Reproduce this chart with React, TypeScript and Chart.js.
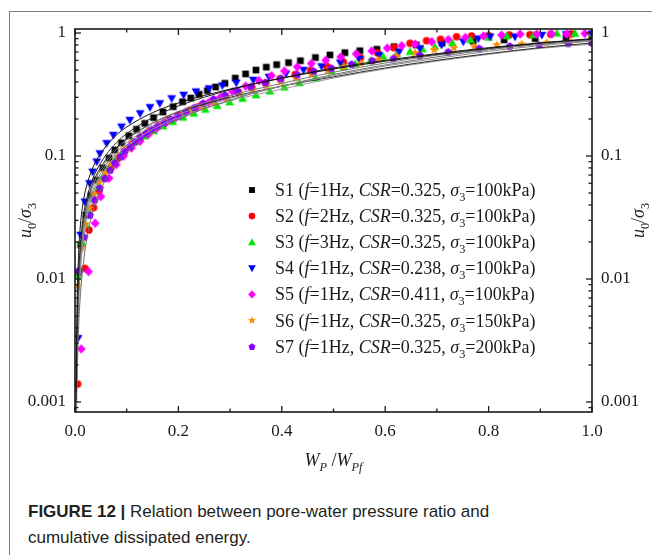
import React, { useEffect, useRef } from 'react';
import { Chart, registerables } from 'chart.js';
Chart.register(...registerables);

// ---------- data ----------
const S1: [number, number][] = [[0.006,0.0111],[0.011,0.0189],[0.021,0.0331],[0.031,0.048],[0.042,0.0638],[0.054,0.08],[0.066,0.096],[0.077,0.112],[0.09,0.128],[0.104,0.146],[0.119,0.165],[0.135,0.184],[0.152,0.205],[0.17,0.228],[0.19,0.252],[0.208,0.276],[0.224,0.296],[0.24,0.318],[0.256,0.34],[0.272,0.364],[0.29,0.39],[0.31,0.43],[0.33,0.465],[0.35,0.5],[0.37,0.528],[0.39,0.553],[0.413,0.574],[0.436,0.595],[0.465,0.632],[0.493,0.663],[0.522,0.692],[0.551,0.718],[0.584,0.737],[0.617,0.774],[0.66,0.8],[0.71,0.83],[0.77,0.86],[0.83,0.88],[0.89,0.9],[0.95,0.92],[1.0,0.94]];
const S2: [number, number][] = [[0.005,0.0014],[0.019,0.0122],[0.027,0.025],[0.036,0.038],[0.046,0.052],[0.057,0.066],[0.069,0.08],[0.082,0.095],[0.096,0.11],[0.111,0.126],[0.127,0.143],[0.144,0.16],[0.162,0.178],[0.181,0.197],[0.201,0.216],[0.222,0.236],[0.244,0.257],[0.267,0.279],[0.291,0.303],[0.316,0.33],[0.342,0.36],[0.369,0.392],[0.397,0.425],[0.426,0.46],[0.456,0.497],[0.487,0.537],[0.519,0.58],[0.552,0.63],[0.585,0.69],[0.617,0.76],[0.648,0.824],[0.68,0.866],[0.707,0.889],[0.738,0.933],[0.767,0.946],[0.8,0.955],[0.84,0.965],[0.88,0.97],[0.92,0.978],[0.96,0.985],[1.0,0.99]];
const S3: [number, number][] = [[0.005,0.0105],[0.013,0.02],[0.02,0.028],[0.027,0.035],[0.035,0.045],[0.044,0.056],[0.054,0.067],[0.065,0.079],[0.077,0.091],[0.09,0.104],[0.104,0.117],[0.119,0.131],[0.135,0.145],[0.152,0.16],[0.17,0.175],[0.189,0.19],[0.209,0.206],[0.23,0.222],[0.252,0.239],[0.275,0.256],[0.299,0.274],[0.324,0.293],[0.35,0.313],[0.377,0.336],[0.405,0.362],[0.434,0.392],[0.465,0.43],[0.496,0.49],[0.52,0.53],[0.542,0.56],[0.571,0.595],[0.596,0.642],[0.622,0.675],[0.648,0.705],[0.672,0.74],[0.696,0.774],[0.73,0.83],[0.765,0.88],[0.8,0.92],[0.835,0.946],[0.887,0.963],[0.932,0.994],[0.967,0.99],[1.0,0.995]];
const S4: [number, number][] = [[0.006,0.0033],[0.011,0.0228],[0.019,0.0425],[0.028,0.06],[0.034,0.0745],[0.042,0.09],[0.048,0.105],[0.061,0.127],[0.074,0.148],[0.09,0.173],[0.106,0.196],[0.126,0.222],[0.145,0.249],[0.164,0.268],[0.187,0.294],[0.21,0.314],[0.234,0.334],[0.259,0.354],[0.285,0.374],[0.312,0.394],[0.345,0.415],[0.375,0.44],[0.408,0.468],[0.442,0.5],[0.477,0.535],[0.513,0.575],[0.55,0.615],[0.588,0.66],[0.627,0.705],[0.667,0.75],[0.709,0.799],[0.751,0.85],[0.78,0.9],[0.803,0.933],[0.851,0.933],[0.903,0.963],[0.95,0.975],[1.0,0.985]];
const S5: [number, number][] = [[0.012,0.0027],[0.026,0.0115],[0.039,0.0284],[0.05,0.0468],[0.066,0.066],[0.08,0.085],[0.094,0.1],[0.109,0.116],[0.126,0.132],[0.142,0.15],[0.158,0.168],[0.176,0.186],[0.195,0.205],[0.215,0.226],[0.236,0.248],[0.258,0.272],[0.281,0.3],[0.305,0.333],[0.33,0.37],[0.356,0.41],[0.38,0.45],[0.405,0.49],[0.43,0.53],[0.457,0.565],[0.485,0.6],[0.514,0.638],[0.544,0.677],[0.574,0.715],[0.604,0.755],[0.632,0.788],[0.658,0.814],[0.69,0.85],[0.722,0.885],[0.755,0.92],[0.79,0.946],[0.825,0.963],[0.861,0.98],[0.893,0.98],[0.922,0.985],[0.951,0.98],[0.986,0.99]];
const S6: [number, number][] = [[0.005,0.0088],[0.013,0.0178],[0.02,0.028],[0.028,0.0377],[0.037,0.049],[0.047,0.061],[0.058,0.073],[0.07,0.086],[0.083,0.1],[0.097,0.114],[0.112,0.129],[0.128,0.145],[0.145,0.161],[0.163,0.178],[0.182,0.196],[0.202,0.214],[0.223,0.233],[0.245,0.253],[0.268,0.274],[0.292,0.296],[0.317,0.319],[0.343,0.344],[0.37,0.37],[0.398,0.398],[0.427,0.428],[0.457,0.46],[0.488,0.494],[0.52,0.53],[0.553,0.568],[0.587,0.607],[0.622,0.648],[0.658,0.69],[0.695,0.73],[0.733,0.755],[0.772,0.775],[0.816,0.8],[0.864,0.814],[0.912,0.835],[0.958,0.85],[1.0,0.86]];
const S7: [number, number][] = [[0.008,0.0118],[0.018,0.022],[0.029,0.0331],[0.038,0.044],[0.048,0.055],[0.058,0.066],[0.068,0.077],[0.077,0.088],[0.087,0.099],[0.096,0.11],[0.106,0.12],[0.116,0.131],[0.126,0.143],[0.137,0.154],[0.148,0.165],[0.16,0.176],[0.172,0.188],[0.185,0.2],[0.2,0.213],[0.215,0.23],[0.231,0.248],[0.248,0.27],[0.268,0.292],[0.29,0.315],[0.314,0.34],[0.34,0.368],[0.368,0.397],[0.398,0.428],[0.43,0.46],[0.462,0.49],[0.496,0.52],[0.535,0.56],[0.575,0.598],[0.616,0.622],[0.667,0.663],[0.722,0.705],[0.782,0.751],[0.841,0.784],[0.898,0.799],[0.954,0.824],[1.0,0.84]];

const fitX = [0.002,0.004,0.007,0.01,0.015,0.02,0.03,0.04,0.06,0.08,0.1,0.15,0.2,0.3,0.4,0.5,0.6,0.7,0.8,0.9,1.0];
const F1 = [0.0012,0.006,0.016,0.026,0.04,0.052,0.072,0.09,0.12,0.148,0.172,0.225,0.27,0.35,0.43,0.51,0.59,0.67,0.75,0.83,0.9];
const F2 = [0.001,0.004,0.011,0.018,0.03,0.04,0.058,0.074,0.102,0.128,0.152,0.205,0.255,0.345,0.43,0.52,0.6,0.68,0.76,0.83,0.89];
const F3 = [0.0008,0.003,0.008,0.014,0.024,0.033,0.05,0.065,0.09,0.113,0.135,0.185,0.23,0.31,0.39,0.48,0.57,0.66,0.74,0.82,0.88];
const F4 = [0.0007,0.0025,0.007,0.012,0.021,0.03,0.046,0.06,0.085,0.107,0.128,0.175,0.218,0.295,0.37,0.45,0.54,0.62,0.71,0.79,0.86];
const F5 = [0.0005,0.0015,0.004,0.007,0.012,0.018,0.03,0.042,0.065,0.087,0.108,0.155,0.2,0.285,0.37,0.46,0.55,0.64,0.73,0.81,0.87];
const F6 = [0.0007,0.003,0.0085,0.015,0.026,0.036,0.053,0.068,0.094,0.117,0.138,0.185,0.228,0.3,0.37,0.44,0.52,0.6,0.68,0.76,0.83];
const F7 = [0.0006,0.0022,0.006,0.011,0.019,0.027,0.042,0.056,0.08,0.101,0.12,0.165,0.205,0.28,0.35,0.43,0.51,0.59,0.67,0.75,0.81];

const seriesNames = ['S1','S2','S3','S4','S5','S6','S7'];
const freqs = ['1Hz','2Hz','3Hz','1Hz','1Hz','1Hz','1Hz'];
const csrs = ['0.325','0.325','0.325','0.238','0.411','0.325','0.325'];
const sigmas = ['100kPa','100kPa','100kPa','100kPa','100kPa','150kPa','200kPa'];
const seriesColors = ['#000000','#ff0000','#00e600','#0000ff','#ff00ff','#ff8c00','#8a00ff'];
const seriesShapes = ['square','circle','triUp','triDown','diamond','star','pentagon'];

const xTickValues = [0, 0.2, 0.4, 0.6, 0.8, 1.0];
const xTickLabels = ['0.0','0.2','0.4','0.6','0.8','1.0'];
const yTickValues = [0.001, 0.01, 0.1, 1];
const yTickLabels = ['0.001','0.01','0.1','1'];

// ---------- helpers ----------
const SERIF = "'Liberation Serif', 'Times New Roman', serif";

function pathShape(ctx: CanvasRenderingContext2D, shape: string, cx: number, cy: number, s: number) {
  ctx.beginPath();
  if (shape === 'square') {
    ctx.rect(cx - s * 0.42, cy - s * 0.42, s * 0.84, s * 0.84);
  } else if (shape === 'circle') {
    ctx.arc(cx, cy, s * 0.47, 0, Math.PI * 2);
  } else if (shape === 'triUp') {
    ctx.moveTo(cx, cy - s * 0.55); ctx.lineTo(cx + s * 0.55, cy + s * 0.42); ctx.lineTo(cx - s * 0.55, cy + s * 0.42); ctx.closePath();
  } else if (shape === 'triDown') {
    ctx.moveTo(cx, cy + s * 0.55); ctx.lineTo(cx + s * 0.55, cy - s * 0.42); ctx.lineTo(cx - s * 0.55, cy - s * 0.42); ctx.closePath();
  } else if (shape === 'diamond') {
    ctx.moveTo(cx, cy - s * 0.6); ctx.lineTo(cx + s * 0.55, cy); ctx.lineTo(cx, cy + s * 0.6); ctx.lineTo(cx - s * 0.55, cy); ctx.closePath();
  } else if (shape === 'star') {
    for (let i = 0; i < 10; i++) {
      const r = i % 2 === 0 ? s * 0.6 : s * 0.26;
      const a = -Math.PI / 2 + i * Math.PI / 5;
      const px = cx + r * Math.cos(a), py = cy + r * Math.sin(a);
      if (i === 0) ctx.moveTo(px, py); else ctx.lineTo(px, py);
    }
    ctx.closePath();
  } else if (shape === 'pentagon') {
    for (let i = 0; i < 5; i++) {
      const a = -Math.PI / 2 + i * 2 * Math.PI / 5;
      const px = cx + s * 0.52 * Math.cos(a), py = cy + s * 0.52 * Math.sin(a) + s * 0.05;
      if (i === 0) ctx.moveTo(px, py); else ctx.lineTo(px, py);
    }
    ctx.closePath();
  }
}

function makeMarker(shape: string, color: string, s: number): HTMLCanvasElement {
  const c = document.createElement('canvas');
  const n = Math.ceil(s + 4);
  c.width = n; c.height = n;
  const ctx = c.getContext('2d')!;
  ctx.fillStyle = color;
  pathShape(ctx, shape, n / 2, n / 2, s);
  ctx.fill();
  return c;
}

type Run = { t: string; i?: boolean; sub?: boolean };
function runsWidth(ctx: CanvasRenderingContext2D, runs: Run[], size: number) {
  let w = 0;
  for (const r of runs) {
    ctx.font = `${r.i ? 'italic ' : ''}${r.sub ? size * 0.68 : size}px ${SERIF}`;
    w += ctx.measureText(r.t).width;
  }
  return w;
}
function drawRuns(ctx: CanvasRenderingContext2D, runs: Run[], x: number, y: number, size: number) {
  let cx = x;
  for (const r of runs) {
    const fs = r.sub ? size * 0.68 : size;
    ctx.font = `${r.i ? 'italic ' : ''}${fs}px ${SERIF}`;
    ctx.fillText(r.t, cx, y + (r.sub ? size * 0.28 : 0));
    cx += ctx.measureText(r.t).width;
  }
}

const yTitleRuns: Run[] = [{ t: 'u', i: true }, { t: '0', sub: true }, { t: '/' }, { t: 'σ', i: true }, { t: '3', sub: true }];
const xTitleRuns: Run[] = [{ t: 'W', i: true }, { t: 'P', i: true, sub: true }, { t: ' /' }, { t: 'W', i: true }, { t: 'Pf', i: true, sub: true }];

const framePlugin = {
  id: 'framePlugin',
  afterDatasetsDraw(chart: any) {
    const { ctx, chartArea: a, scales } = chart;
    const xs = scales.x, ys = scales.y;
    ctx.save();
    ctx.strokeStyle = '#1a1a1a';
    ctx.lineWidth = 1.6;
    ctx.strokeRect(a.left, a.top, a.right - a.left, a.bottom - a.top);
    ctx.lineWidth = 1.3;
    const seg = (x1: number, y1: number, x2: number, y2: number) => { ctx.beginPath(); ctx.moveTo(x1, y1); ctx.lineTo(x2, y2); ctx.stroke(); };
    for (let i = 0; i <= 10; i++) {
      const px = xs.getPixelForValue(i / 10);
      const L = i % 2 === 0 ? 6 : 3.5;
      seg(px, a.bottom, px, a.bottom - L);
      seg(px, a.top, px, a.top + L);
    }
    for (let d = -4; d <= 0; d++) {
      for (let m = 1; m <= 9; m++) {
        const v = m * Math.pow(10, d);
        if (v < ys.min || v > ys.max) continue;
        const py = ys.getPixelForValue(v);
        const L = m === 1 ? 6 : 3.5;
        seg(a.left, py, a.left + L, py);
        seg(a.right, py, a.right - L, py);
      }
    }
    ctx.fillStyle = '#1a1a1a';
    ctx.font = `17px ${SERIF}`;
    ctx.textBaseline = 'middle';
    yTickValues.forEach((v, i) => {
      const py = ys.getPixelForValue(v);
      ctx.textAlign = 'right';
      ctx.fillText(yTickLabels[i], a.left - 9, py);
      ctx.textAlign = 'left';
      ctx.fillText(yTickLabels[i], a.right + 9, py);
    });
    ctx.textAlign = 'center';
    ctx.textBaseline = 'top';
    xTickValues.forEach((v, i) => {
      ctx.fillText(xTickLabels[i], xs.getPixelForValue(v), a.bottom + 11);
    });
    // axis titles
    ctx.textAlign = 'left';
    ctx.textBaseline = 'alphabetic';
    const ty = (a.top + a.bottom) / 2;
    const tw = runsWidth(ctx, yTitleRuns, 18);
    ctx.save(); ctx.translate(a.left - 44, ty); ctx.rotate(-Math.PI / 2); drawRuns(ctx, yTitleRuns, -tw / 2, 0, 18); ctx.restore();
    ctx.save(); ctx.translate(a.right + 52, ty); ctx.rotate(-Math.PI / 2); drawRuns(ctx, yTitleRuns, -tw / 2, 0, 18); ctx.restore();
    const xw = runsWidth(ctx, xTitleRuns, 18);
    drawRuns(ctx, xTitleRuns, (a.left + a.right) / 2 - xw / 2, a.bottom + 54, 18);
    // legend
    const lx = a.left + 177, ly = a.top + 161;
    seriesNames.forEach((nm, i) => {
      const cy = ly + i * 26.1;
      ctx.fillStyle = seriesColors[i];
      pathShape(ctx, seriesShapes[i], lx, cy, 7);
      ctx.fill();
      ctx.fillStyle = '#1a1a1a';
      const runs: Run[] = [
        { t: `${nm} (` }, { t: 'f', i: true }, { t: `=${freqs[i]}, ` }, { t: 'CSR', i: true },
        { t: `=${csrs[i]}, ` }, { t: 'σ', i: true }, { t: '3', sub: true }, { t: `=${sigmas[i]})` },
      ];
      drawRuns(ctx, runs, lx + 23, cy + 6, 18);
    });
    ctx.restore();
  },
};

export default function App() {
  const ref = useRef<HTMLCanvasElement>(null);
  useEffect(() => {
    if (!ref.current) return;
    const pts = [S1, S2, S3, S4, S5, S6, S7];
    const fits = [F1, F2, F3, F4, F5, F6, F7];
    const fitColors = ['#111111', '#222222', '#7a7a7a', '#8a8a8a', '#6e6e6e', '#2a2a2a', '#9a9a9a'];
    const datasets: any[] = [];
    pts.forEach((p, i) => {
      datasets.push({
        label: seriesNames[i],
        data: p.map(([x, y]) => ({ x, y })),
        pointStyle: makeMarker(seriesShapes[i], seriesColors[i], 8),
        pointRadius: 5,
        showLine: false,
        order: 10 - i,
      });
    });
    fits.forEach((f, i) => {
      datasets.push({
        label: 'fit' + (i + 1),
        data: fitX.map((x, k) => ({ x, y: f[k] })),
        showLine: true,
        pointRadius: 0,
        borderColor: fitColors[i],
        borderWidth: 1,
        cubicInterpolationMode: 'monotone',
        order: 0,
      });
    });
    const chart = new Chart(ref.current, {
      type: 'scatter',
      data: { datasets },
      options: {
        animation: false,
        responsive: true,
        maintainAspectRatio: false,
        layout: { padding: { left: 65, right: 60, top: 17, bottom: 70 } },
        plugins: { legend: { display: false }, tooltip: { enabled: false } },
        scales: {
          x: { type: 'linear', min: 0, max: 1, display: false },
          y: { type: 'logarithmic', min: 0.000829, max: 1.078, display: false },
        },
      },
      plugins: [framePlugin],
    });
    return () => chart.destroy();
  }, []);

  return (
    <div style={{ position: 'absolute', left: 9, top: 11, width: 643, height: 544, borderLeft: '1px solid #808080', borderTop: '1px solid #808080' }}>
      <div style={{ position: 'absolute', left: 0, top: 0, width: 642, height: 470 }}>
        <canvas ref={ref} />
      </div>
      <div style={{ position: 'absolute', left: 18, top: 487, fontFamily: "'Liberation Sans', Arial, sans-serif", fontSize: 17, lineHeight: '26px', color: '#231f20', whiteSpace: 'nowrap' }}>
        <div><b>FIGURE 12 |</b> Relation between pore-water pressure ratio and</div>
        <div>cumulative dissipated energy.</div>
      </div>
    </div>
  );
}
